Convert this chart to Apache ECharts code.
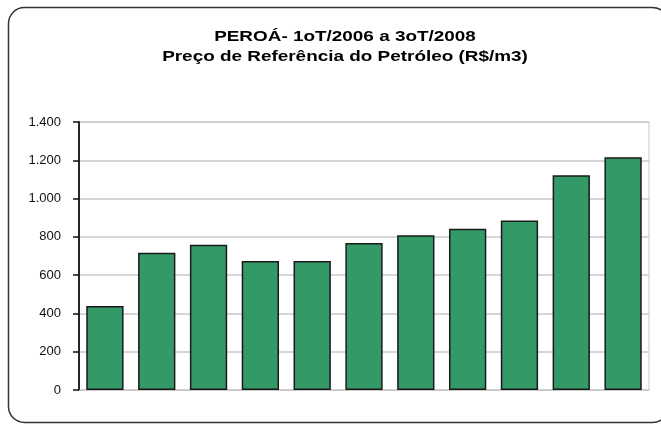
<!DOCTYPE html>
<html>
<head>
<meta charset="utf-8">
<script src="https://cdn.jsdelivr.net/npm/echarts@6/dist/echarts.min.js"></script>
<style>
  html, body { margin: 0; padding: 0; background: #fff; }
  #chart { width: 661px; height: 425px; }
</style>
</head>
<body>
<div id="chart"></div>
<script>
// Quarterly reference price of oil, Peroá field, 1T/2006 .. 3T/2008 (R$/m3)
const quarters = ['1T/2006', '2T/2006', '3T/2006', '4T/2006', '1T/2007', '2T/2007',
                  '3T/2007', '4T/2007', '1T/2008', '2T/2008', '3T/2008'];
const prices = [439, 717, 759, 674, 674, 768, 808, 843, 885, 1122, 1216];
const yTicks = [0, 200, 400, 600, 800, 1000, 1200, 1400];

const titleLines = ['PEROÁ- 1oT/2006 a 3oT/2008', 'Preço de Referência do Petróleo (R$/m3)'];

function fmtThousands(v) {
  return String(v).replace(/\B(?=(\d{3})+(?!\d))/g, '.');
}

// Title lines: a slightly widened bold sans face
const titleGraphics = titleLines.map((line, i) => ({
  type: 'text',
  x: 345,
  y: 37 + i * 19.5,
  scaleX: 1.22,
  silent: true,
  style: {
    text: line,
    font: 'bold 15.5px "Liberation Sans", Arial, sans-serif',
    fill: '#000',
    align: 'center',
    verticalAlign: 'middle'
  }
}));

const chart = echarts.init(document.getElementById('chart'), null, { renderer: 'canvas' });
chart.setOption({
  animation: false,
  backgroundColor: '#ffffff',
  graphic: [{
    type: 'rect',
    shape: { x: 8.5, y: 7.5, width: 660, height: 415, r: 16 },
    style: { fill: 'none', stroke: '#333', lineWidth: 1.5 },
    silent: true
  }].concat(titleGraphics),
  grid: {
    left: 79, right: 12, top: 122, bottom: 35,
    show: true, borderColor: '#c8c8c8', borderWidth: 1, backgroundColor: 'transparent'
  },
  xAxis: {
    type: 'category',
    data: quarters,
    axisLine: { show: true, lineStyle: { color: '#c8c8c8', width: 1 } },
    axisTick: { show: false },
    axisLabel: { show: false }
  },
  yAxis: {
    type: 'value',
    min: yTicks[0],
    max: yTicks[yTicks.length - 1],
    interval: 200,
    axisLine: { show: true, lineStyle: { color: '#111', width: 1.8 } },
    axisTick: { show: true, length: 6, lineStyle: { color: '#111', width: 1.5 } },
    axisLabel: {
      margin: 18,
      fontFamily: 'Liberation Sans, Arial, sans-serif',
      fontSize: 13,
      color: '#111',
      formatter: fmtThousands
    },
    splitLine: { show: true, lineStyle: { color: '#c8c8c8', width: 1.5 } }
  },
  series: [{
    type: 'bar',
    data: prices,
    barCategoryGap: '28%',
    itemStyle: { color: '#339966', borderColor: '#1a1a1a', borderWidth: 1.5 }
  }]
});
</script>
</body>
</html>
